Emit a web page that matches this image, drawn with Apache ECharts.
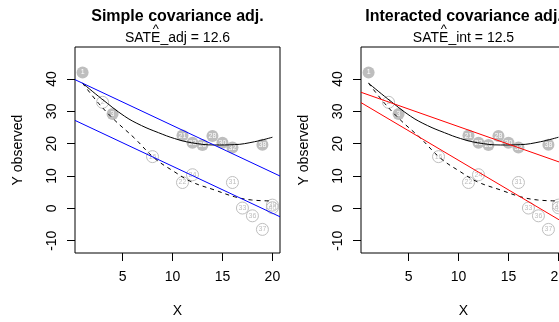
<!DOCTYPE html>
<html>
<head>
<meta charset="utf-8">
<script src="https://cdn.jsdelivr.net/npm/echarts@6/dist/echarts.min.js"></script>
<style>
  html, body { margin: 0; padding: 0; background: #fff; }
  #chart { width: 559px; height: 322px; }
</style>
</head>
<body>
<div id="chart"></div>
<script>
// Treated units (filled gray markers)
const treatedX = [1, 4, 11, 12, 13, 14, 15, 16, 19];
const treatedY = [42.0, 29.2, 22.5, 20.3, 19.6, 22.4, 20.3, 18.8, 19.7];
const treatedId = ['1', '3', '21', '23', '25', '28', '30', '32', '38'];

// Control units (open markers)
const controlX = [3, 8, 11, 12, 16, 17, 18, 19, 20, 20];
const controlY = [32.8, 16.0, 8.0, 10.4, 8.0, 0.1, -2.3, -6.5, 1.0, 0.2];
const controlId = ['2', '16', '22', '24', '31', '33', '36', '37', '39', '40'];

// Smoothed response curves: treated (solid) and control (dashed)
const solidX = [1, 2.9, 5.2, 6.9, 8.6, 10.2, 11.9, 14.2, 16.2, 18.2, 20];
const solidY = [38.7, 33.9, 28.5, 25.6, 23.4, 21.6, 20.3, 19.6, 19.7, 20.6, 22.0];
const dashX = [1, 2.6, 4.2, 6.2, 8.2, 10.2, 11.9, 14.2, 16.2, 17.9, 20];
const dashY = [38.7, 32.5, 27.3, 21.7, 15.5, 11.3, 8.2, 5.7, 3.6, 2.6, 2.3];

// Fitted regression lines (end points at the plot edges)
const lineEndsX = [0.24, 20.76];
const simpleTreatedY = [39.8, 10.0];
const simpleControlY = [27.2, -2.6];
const interTreatedY = [35.9, 13.6];
const interControlY = [32.7, -4.8];

// Axis ticks
const xTicks = [5, 10, 15, 20];
const yTicks = [-10, 0, 10, 20, 30, 40];

// Panel headings
const panelTitles = ['Simple covariance adj.', 'Interacted covariance adj.'];
const estimateLabels = ['SATE_adj = 12.6', 'SATE_int = 12.5'];

const FONT = '"Liberation Sans", Arial, Helvetica, sans-serif';
const GRAY = '#bebebe';

const grids = [
  { left: 75, top: 47, width: 205, height: 206 },
  { left: 361, top: 47, width: 205, height: 206 }
];

function pairs(xs, ys) { return xs.map((x, i) => [x, ys[i]]); }

const chart = echarts.init(document.getElementById('chart'), null, { renderer: 'canvas' });

const option = {
  animation: false,
  backgroundColor: '#fff',
  grid: grids.map(g => Object.assign({
    show: true, borderColor: '#000', borderWidth: 1,
    backgroundColor: 'transparent', containLabel: false, outerBoundsMode: 'none'
  }, g)),
  xAxis: grids.map((g, i) => ({
    gridIndex: i, type: 'value', min: 0.24, max: 20.76, position: 'bottom',
    axisLine: { show: false, onZero: false }, splitLine: { show: false },
    axisTick: { show: true, length: 8, customValues: xTicks, lineStyle: { color: '#000', width: 1 } },
    axisLabel: { customValues: xTicks, fontSize: 14, color: '#000', margin: 17, fontFamily: FONT },
    name: 'X', nameLocation: 'middle', nameGap: 51,
    nameTextStyle: { fontSize: 14, color: '#000', fontFamily: FONT }
  })),
  yAxis: grids.map((g, i) => ({
    gridIndex: i, type: 'value', min: -13.8, max: 49.9, position: 'left',
    axisLine: { show: false, onZero: false }, splitLine: { show: false },
    axisTick: { show: true, length: 8, customValues: yTicks, lineStyle: { color: '#000', width: 1 } },
    axisLabel: { customValues: yTicks, fontSize: 14, color: '#000', margin: 16, rotate: 90, fontFamily: FONT },
    name: 'Y observed', nameLocation: 'middle', nameGap: 50,
    nameTextStyle: { fontSize: 14, color: '#000', fontFamily: FONT }
  })),
  series: []
};

const regLines = [
  [simpleTreatedY, simpleControlY, '#0000ff'],
  [interTreatedY, interControlY, '#ff0000']
];

for (let i = 0; i < 2; i++) {
  option.series.push({
    type: 'scatter', xAxisIndex: i, yAxisIndex: i, symbolSize: 12, silent: true,
    data: treatedX.map((x, k) => [x, treatedY[k], treatedId[k]]),
    itemStyle: { color: GRAY, opacity: 1 },
    label: { show: true, position: 'inside', formatter: p => p.value[2], color: '#fff', fontSize: 7, fontFamily: FONT },
    emphasis: { disabled: true }
  });
  option.series.push({
    type: 'scatter', xAxisIndex: i, yAxisIndex: i, symbolSize: 12, silent: true,
    data: controlX.map((x, k) => [x, controlY[k], controlId[k]]),
    itemStyle: { color: 'rgba(0,0,0,0)', borderColor: GRAY, borderWidth: 1, opacity: 1 },
    label: { show: true, position: 'inside', formatter: p => p.value[2], color: GRAY, fontSize: 7, fontFamily: FONT },
    emphasis: { disabled: true }
  });
  option.series.push({
    type: 'line', xAxisIndex: i, yAxisIndex: i, data: pairs(solidX, solidY), smooth: 0.4,
    showSymbol: false, silent: true, lineStyle: { color: '#000', width: 1 }
  });
  option.series.push({
    type: 'line', xAxisIndex: i, yAxisIndex: i, data: pairs(dashX, dashY), smooth: 0.4,
    showSymbol: false, silent: true, lineStyle: { color: '#000', width: 1, type: [4, 4] }
  });
  const [ty, cy, col] = regLines[i];
  option.series.push({
    type: 'line', xAxisIndex: i, yAxisIndex: i, data: pairs(lineEndsX, ty),
    showSymbol: false, silent: true, lineStyle: { color: col, width: 1 }
  });
  option.series.push({
    type: 'line', xAxisIndex: i, yAxisIndex: i, data: pairs(lineEndsX, cy),
    showSymbol: false, silent: true, lineStyle: { color: col, width: 1 }
  });
}

// Headings: bold title, estimate line, and the hat over the E
const measure = document.createElement('canvas').getContext('2d');
const subFont = '14px ' + FONT;
measure.font = subFont;
const graphics = [];
grids.forEach((g, i) => {
  const cx = g.left + g.width / 2;
  graphics.push({
    type: 'text', silent: true,
    style: { text: panelTitles[i], x: cx, y: 17, align: 'center', verticalAlign: 'middle',
             font: 'bold 16px ' + FONT, fill: '#000' }
  });
  const txt = estimateLabels[i];
  graphics.push({
    type: 'text', silent: true,
    style: { text: txt, x: cx, y: 38, align: 'center', verticalAlign: 'middle', font: subFont, fill: '#000' }
  });
  const full = measure.measureText(txt).width;
  const pre = measure.measureText('SAT').width;
  const e = measure.measureText('E').width;
  graphics.push({
    type: 'text', silent: true,
    style: { text: '^', x: cx - full / 2 + pre + e / 2, y: 29, align: 'center', verticalAlign: 'middle',
             font: '13px ' + FONT, fill: '#000' }
  });
});
option.graphic = graphics;

chart.setOption(option);
</script>
</body>
</html>
